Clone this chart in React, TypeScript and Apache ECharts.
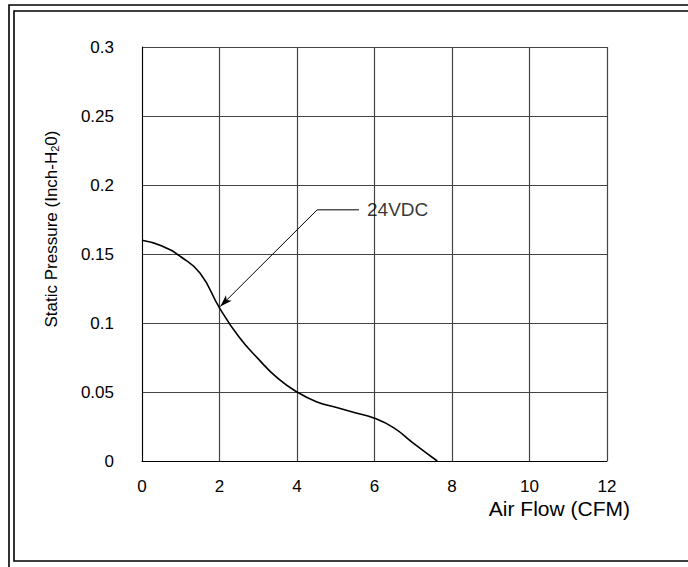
import React, { useEffect, useRef } from "react";
import * as echarts from "echarts";

// Fan curve: Air Flow (CFM) vs Static Pressure (Inch-H2O), 24VDC
const airFlow = [0, 0.5, 1, 1.5, 2, 2.5, 3, 3.5, 4, 4.5, 5, 5.5, 6, 6.5, 7, 7.62];
const pressure = [0.16, 0.156, 0.148, 0.136, 0.111, 0.09, 0.074, 0.06, 0.05, 0.043, 0.039, 0.035, 0.031, 0.024, 0.013, 0];

// leader line for the "24VDC" callout: [x, y] in data units
const leaderEnd = [5.6, 0.182];
const leaderKnee = [4.52, 0.182];
const leaderTip = [2.02, 0.112];
const curveLabel = "24VDC";

const xMin = 0, xMax = 12, xStep = 2;
const yMin = 0, yMax = 0.3, yStep = 0.05;

export default function App() {
  const ref = useRef<HTMLDivElement>(null);
  useEffect(() => {
    if (!ref.current) return;
    const chart = echarts.init(ref.current, null, { renderer: "svg" });
    const font = "Liberation Sans, Arial, sans-serif";
    chart.setOption({
      animation: false,
      backgroundColor: "#ffffff",
      grid: { left: 142, right: 81, top: 47, bottom: 106, containLabel: false },
      xAxis: {
        type: "value",
        min: xMin,
        max: xMax,
        interval: xStep,
        name: "Air Flow (CFM)",
        nameLocation: "end",
        nameGap: 23,
        nameTextStyle: {
          fontFamily: font,
          fontSize: 21,
          color: "#000",
          align: "right",
          verticalAlign: "top",
          padding: [37, 0, 0, 0],
        },
        axisLine: { show: true, lineStyle: { color: "#000", width: 1 } },
        axisTick: { show: false },
        axisLabel: { fontFamily: font, fontSize: 17, color: "#000", margin: 17 },
        splitLine: { show: true, lineStyle: { color: "#444", width: 1.2 } },
      },
      yAxis: {
        type: "value",
        min: yMin,
        max: yMax,
        interval: yStep,
        name: "Static Pressure (Inch-H{sub|2}0)",
        nameLocation: "middle",
        nameRotate: 90,
        nameGap: 82,
        nameTextStyle: {
          fontFamily: font,
          fontSize: 17,
          color: "#000",
          padding: [0, 0, 0, 50],
          rich: {
            sub: { fontFamily: font, fontSize: 11, color: "#000", verticalAlign: "bottom", lineHeight: 12 },
          },
        },
        axisLine: { show: true, lineStyle: { color: "#000", width: 1 } },
        axisTick: { show: false },
        axisLabel: {
          fontFamily: font,
          fontSize: 17,
          color: "#000",
          margin: 28,
          formatter: (v: number) => String(Math.round(v * 100) / 100),
        },
        splitLine: { show: true, lineStyle: { color: "#444", width: 1.2 } },
      },
      series: [
        {
          type: "line",
          data: airFlow.map((x, i) => [x, pressure[i]]),
          smooth: 0.5,
          showSymbol: false,
          lineStyle: { color: "#000", width: 1.6 },
        },
        {
          type: "line",
          data: [leaderEnd, leaderKnee],
          showSymbol: false,
          lineStyle: { color: "#000", width: 1 },
          markLine: {
            silent: true,
            symbol: ["none", "arrow"],
            symbolSize: [6, 12],
            label: { show: false },
            lineStyle: { color: "#000", width: 1, type: "solid" },
            data: [[{ coord: leaderKnee }, { coord: leaderTip }]],
          },
        },
        {
          type: "scatter",
          data: [leaderEnd],
          symbolSize: 0,
          label: {
            show: true,
            position: "right",
            distance: 8,
            formatter: curveLabel,
            fontFamily: font,
            fontSize: 19,
            color: "#000",
          },
        },
      ],
      graphic: [
        {
          type: "polyline",
          shape: { points: [[9, 567], [9, 5], [688, 5]] },
          style: { stroke: "#000", lineWidth: 1.6, fill: "none" },
        },
        {
          type: "polyline",
          shape: { points: [[700, 11], [14, 11], [14, 561], [700, 561]] },
          style: { stroke: "#000", lineWidth: 1.6, fill: "none" },
        },
      ],
    });
    return () => chart.dispose();
  }, []);
  return (
    <div
      ref={ref}
      style={{ position: "fixed", left: 0, top: 0, width: 688, height: 567 }}
    />
  );
}
